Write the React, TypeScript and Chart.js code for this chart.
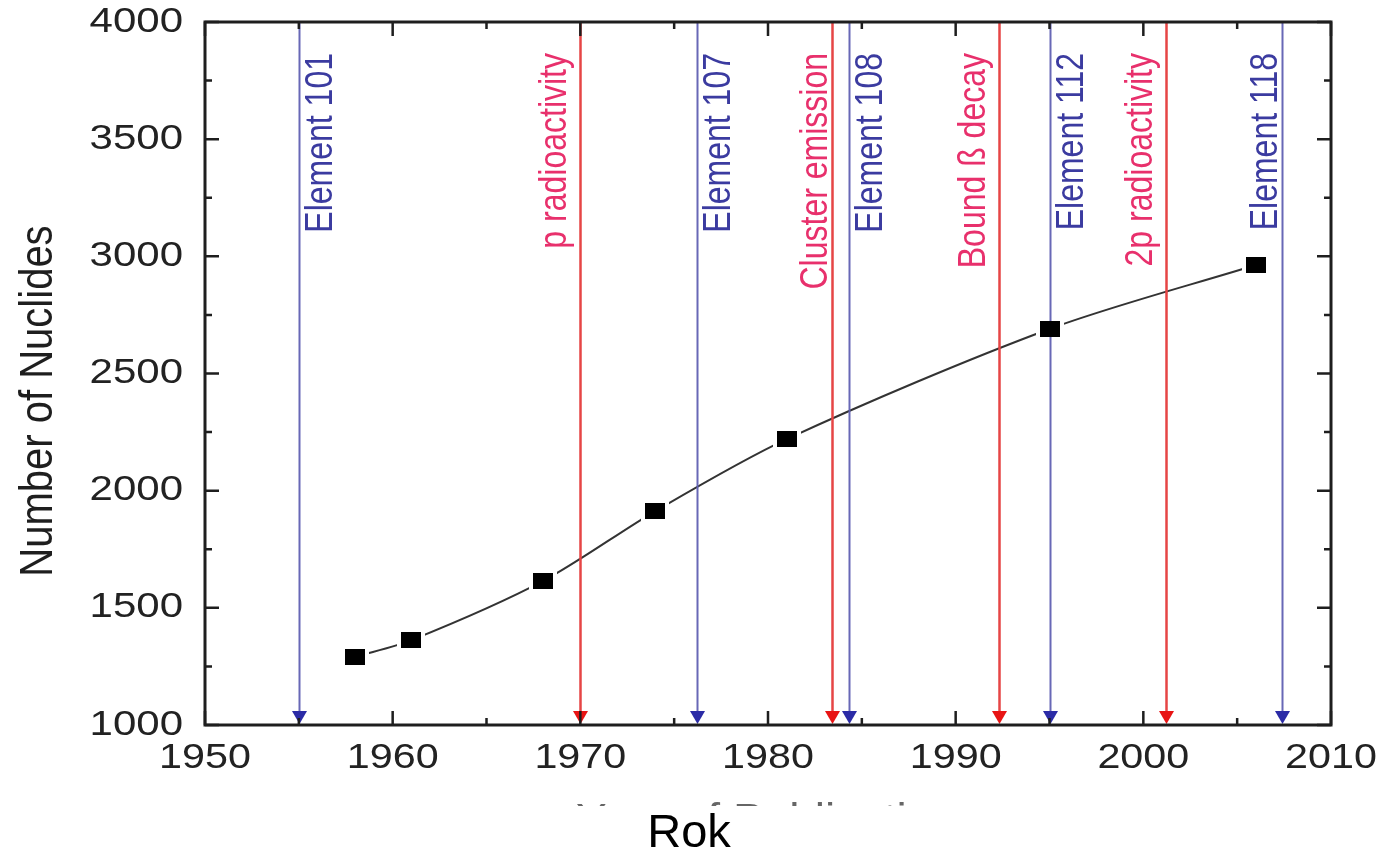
import React, { useEffect, useRef } from 'react';
import { Chart, registerables } from 'chart.js';

Chart.register(...registerables);

// ---- data ----
const years = [1958, 1961, 1968, 1974, 1981, 1995, 2006];
const nuclides = [1290, 1362, 1614, 1913, 2220, 2690, 2963];

const eventYears = [1955, 1970, 1976.2, 1983.4, 1984.3, 1992.3, 1995.0, 2001.2, 2007.4];
const eventLabels = [
  'Element 101',
  'p radioactivity',
  'Element 107',
  'Cluster emission',
  'Element 108',
  'Bound ß decay',
  'Element 112',
  '2p radioactivity',
  'Element 118',
];
const eventKinds = ['element', 'effect', 'element', 'effect', 'element', 'effect', 'element', 'effect', 'element'];

const xRange = [1950, 2010];
const yRange = [1000, 4000];
const xStep = 10;
const yStep = 500;

const yAxisTitle = 'Number of Nuclides';
const xAxisTitle = 'Year of Publication';
const caption = 'Rok';

// ---- styles ----
const FONT = '"Liberation Sans", Arial, Helvetica, sans-serif';
const BLUE_LINE = 'rgba(96,96,178,0.95)';
const BLUE_ARROW = '#2b2ba6';
const BLUE_TEXT = '#3b3ba0';
const RED_LINE = '#e64545';
const RED_ARROW = '#e81414';
const RED_TEXT = '#e8306c';
const LABEL_LEFT = new Set(['effect']);
const AXIS = '#1e1e1e';

function makeRect(w: number, h: number, color: string) {
  const c = document.createElement('canvas');
  c.width = w;
  c.height = h;
  const g = c.getContext('2d')!;
  g.fillStyle = color;
  g.fillRect(0, 0, w, h);
  return c;
}

function stretchedText(
  ctx: CanvasRenderingContext2D,
  text: string,
  x: number,
  y: number,
  opts: { font: string; color: string; align: CanvasTextAlign; baseline: CanvasTextBaseline; sx: number; rot?: number }
) {
  ctx.save();
  ctx.translate(x, y);
  ctx.scale(opts.sx, 1);
  if (opts.rot) ctx.rotate(opts.rot);
  ctx.font = opts.font;
  ctx.fillStyle = opts.color;
  ctx.textAlign = opts.align;
  ctx.textBaseline = opts.baseline;
  ctx.fillText(text, 0, 0);
  ctx.restore();
}

const decorPlugin = {
  id: 'decor',
  afterDatasetDraw(chart: any, args: any) {
    if (args.index !== 1) return;
    const ctx: CanvasRenderingContext2D = chart.ctx;
    const xs = chart.scales.x;
    const { top, bottom } = chart.chartArea;
    const labelFont = `32px ${FONT}`;
    const S = 1.24;
    eventYears.forEach((yr, i) => {
      const x = Math.round(xs.getPixelForValue(yr)) + 0.5;
      const isEl = eventKinds[i] === 'element';
      ctx.save();
      ctx.strokeStyle = isEl ? BLUE_LINE : RED_LINE;
      ctx.lineWidth = isEl ? 2 : 2.5;
      ctx.beginPath();
      ctx.moveTo(x, top);
      ctx.lineTo(x, bottom - 10);
      ctx.stroke();
      ctx.fillStyle = isEl ? BLUE_ARROW : RED_ARROW;
      ctx.beginPath();
      ctx.moveTo(x, bottom - 1);
      ctx.lineTo(x - 7.5, bottom - 14);
      ctx.lineTo(x + 7.5, bottom - 14);
      ctx.closePath();
      ctx.fill();
      ctx.restore();

      // label
      ctx.save();
      ctx.font = labelFont;
      const m = ctx.measureText(eventLabels[i]);
      ctx.restore();
      const left = LABEL_LEFT.has(eventKinds[i]) || i === eventYears.length - 1;
      let bx: number;
      if (left) {
        bx = x - 6 - m.actualBoundingBoxDescent * S;
      } else {
        bx = x + 4 + m.actualBoundingBoxAscent * S;
      }
      stretchedText(ctx, eventLabels[i], bx, top + 31, {
        font: labelFont,
        color: isEl ? BLUE_TEXT : RED_TEXT,
        align: 'right',
        baseline: 'alphabetic',
        sx: S,
        rot: -Math.PI / 2,
      });
    });
  },
  afterDraw(chart: any) {
    const ctx: CanvasRenderingContext2D = chart.ctx;
    const { left, right, top, bottom } = chart.chartArea;
    const xs = chart.scales.x;
    const ys = chart.scales.y;
    const MAJ = 14;
    const MIN = 7;

    ctx.save();
    ctx.strokeStyle = AXIS;
    ctx.lineWidth = 3;
    ctx.strokeRect(left, top, right - left, bottom - top);

    ctx.lineWidth = 2.5;
    ctx.beginPath();
    const xt = xs.ticks.map((t: any) => t.value);
    xt.forEach((v: number, i: number) => {
      const px = xs.getPixelForValue(v);
      ctx.moveTo(px, bottom);
      ctx.lineTo(px, bottom - MAJ);
      ctx.moveTo(px, top);
      ctx.lineTo(px, top + MAJ);
      if (i < xt.length - 1) {
        const pm = xs.getPixelForValue((v + xt[i + 1]) / 2);
        ctx.moveTo(pm, bottom);
        ctx.lineTo(pm, bottom - MIN);
        ctx.moveTo(pm, top);
        ctx.lineTo(pm, top + MIN);
      }
    });
    const yt = ys.ticks.map((t: any) => t.value);
    yt.forEach((v: number, i: number) => {
      const py = ys.getPixelForValue(v);
      ctx.moveTo(left, py);
      ctx.lineTo(left + MAJ, py);
      ctx.moveTo(right, py);
      ctx.lineTo(right - MAJ, py);
      if (i < yt.length - 1) {
        const pm = ys.getPixelForValue((v + yt[i + 1]) / 2);
        ctx.moveTo(left, pm);
        ctx.lineTo(left + MIN, pm);
        ctx.moveTo(right, pm);
        ctx.lineTo(right - MIN, pm);
      }
    });
    ctx.stroke();
    ctx.restore();

    const tickFont = `35px ${FONT}`;
    xs.ticks.forEach((t: any) => {
      stretchedText(ctx, String(t.value), xs.getPixelForValue(t.value), bottom + 33, {
        font: tickFont,
        color: '#222',
        align: 'center',
        baseline: 'middle',
        sx: 1.18,
      });
    });
    ys.ticks.forEach((t: any) => {
      stretchedText(ctx, String(t.value), left - 22, ys.getPixelForValue(t.value), {
        font: tickFont,
        color: '#222',
        align: 'right',
        baseline: 'middle',
        sx: 1.2,
      });
    });

    // y axis title
    stretchedText(ctx, yAxisTitle, 52, 401, {
      font: `40px ${FONT}`,
      color: '#1e1e1e',
      align: 'center',
      baseline: 'alphabetic',
      sx: 1.15,
      rot: -Math.PI / 2,
    });

    // x axis title, mostly hidden behind the caption band
    ctx.save();
    ctx.beginPath();
    ctx.rect(0, 795, chart.width, 11);
    ctx.clip();
    stretchedText(ctx, xAxisTitle, 767, 832, {
      font: `40px ${FONT}`,
      color: '#666',
      align: 'center',
      baseline: 'alphabetic',
      sx: 1.15,
    });
    ctx.restore();

    // caption
    stretchedText(ctx, caption, 689, 847, {
      font: `47px ${FONT}`,
      color: '#000',
      align: 'center',
      baseline: 'alphabetic',
      sx: 1,
    });
  },
};

export default function App() {
  const ref = useRef<HTMLCanvasElement | null>(null);

  useEffect(() => {
    if (!ref.current) return;
    const points = years.map((x, i) => ({ x, y: nuclides[i] }));
    const marker = makeRect(20, 16, '#000');
    const halo = makeRect(28, 22, '#fff');

    const chart = new Chart(ref.current, {
      type: 'line',
      data: {
        datasets: [
          {
            label: 'markers',
            data: points,
            showLine: false,
            pointStyle: marker as any,
            pointRadius: 10,
            pointHoverRadius: 10,
          },
          {
            label: 'halo',
            data: points,
            showLine: false,
            pointStyle: halo as any,
            pointRadius: 10,
            pointHoverRadius: 10,
          },
          {
            label: 'Number of Nuclides',
            data: points,
            borderColor: '#333',
            borderWidth: 2,
            tension: 0.3,
            pointRadius: 0,
            fill: false,
          },
        ],
      },
      options: {
        animation: false,
        responsive: false,
        events: [],
        layout: { padding: { left: 0, top: 22, right: 52, bottom: 0 } },
        plugins: { legend: { display: false }, tooltip: { enabled: false } },
        scales: {
          x: {
            type: 'linear',
            min: xRange[0],
            max: xRange[1],
            ticks: { stepSize: xStep, display: false, callback: (v: any) => String(v) },
            grid: { display: false },
            border: { display: false },
            afterFit: (s: any) => {
              s.height = 130;
            },
          },
          y: {
            type: 'linear',
            min: yRange[0],
            max: yRange[1],
            ticks: { stepSize: yStep, display: false, callback: (v: any) => String(v) },
            grid: { display: false },
            border: { display: false },
            afterFit: (s: any) => {
              s.width = 205;
            },
          },
        },
      },
      plugins: [decorPlugin],
    });
    return () => chart.destroy();
  }, []);

  return (
    <div style={{ position: 'fixed', left: 0, top: 0, width: 1383, height: 855, background: '#fff' }}>
      <canvas ref={ref} width={1383} height={855} style={{ width: 1383, height: 855, display: 'block' }} />
    </div>
  );
}
